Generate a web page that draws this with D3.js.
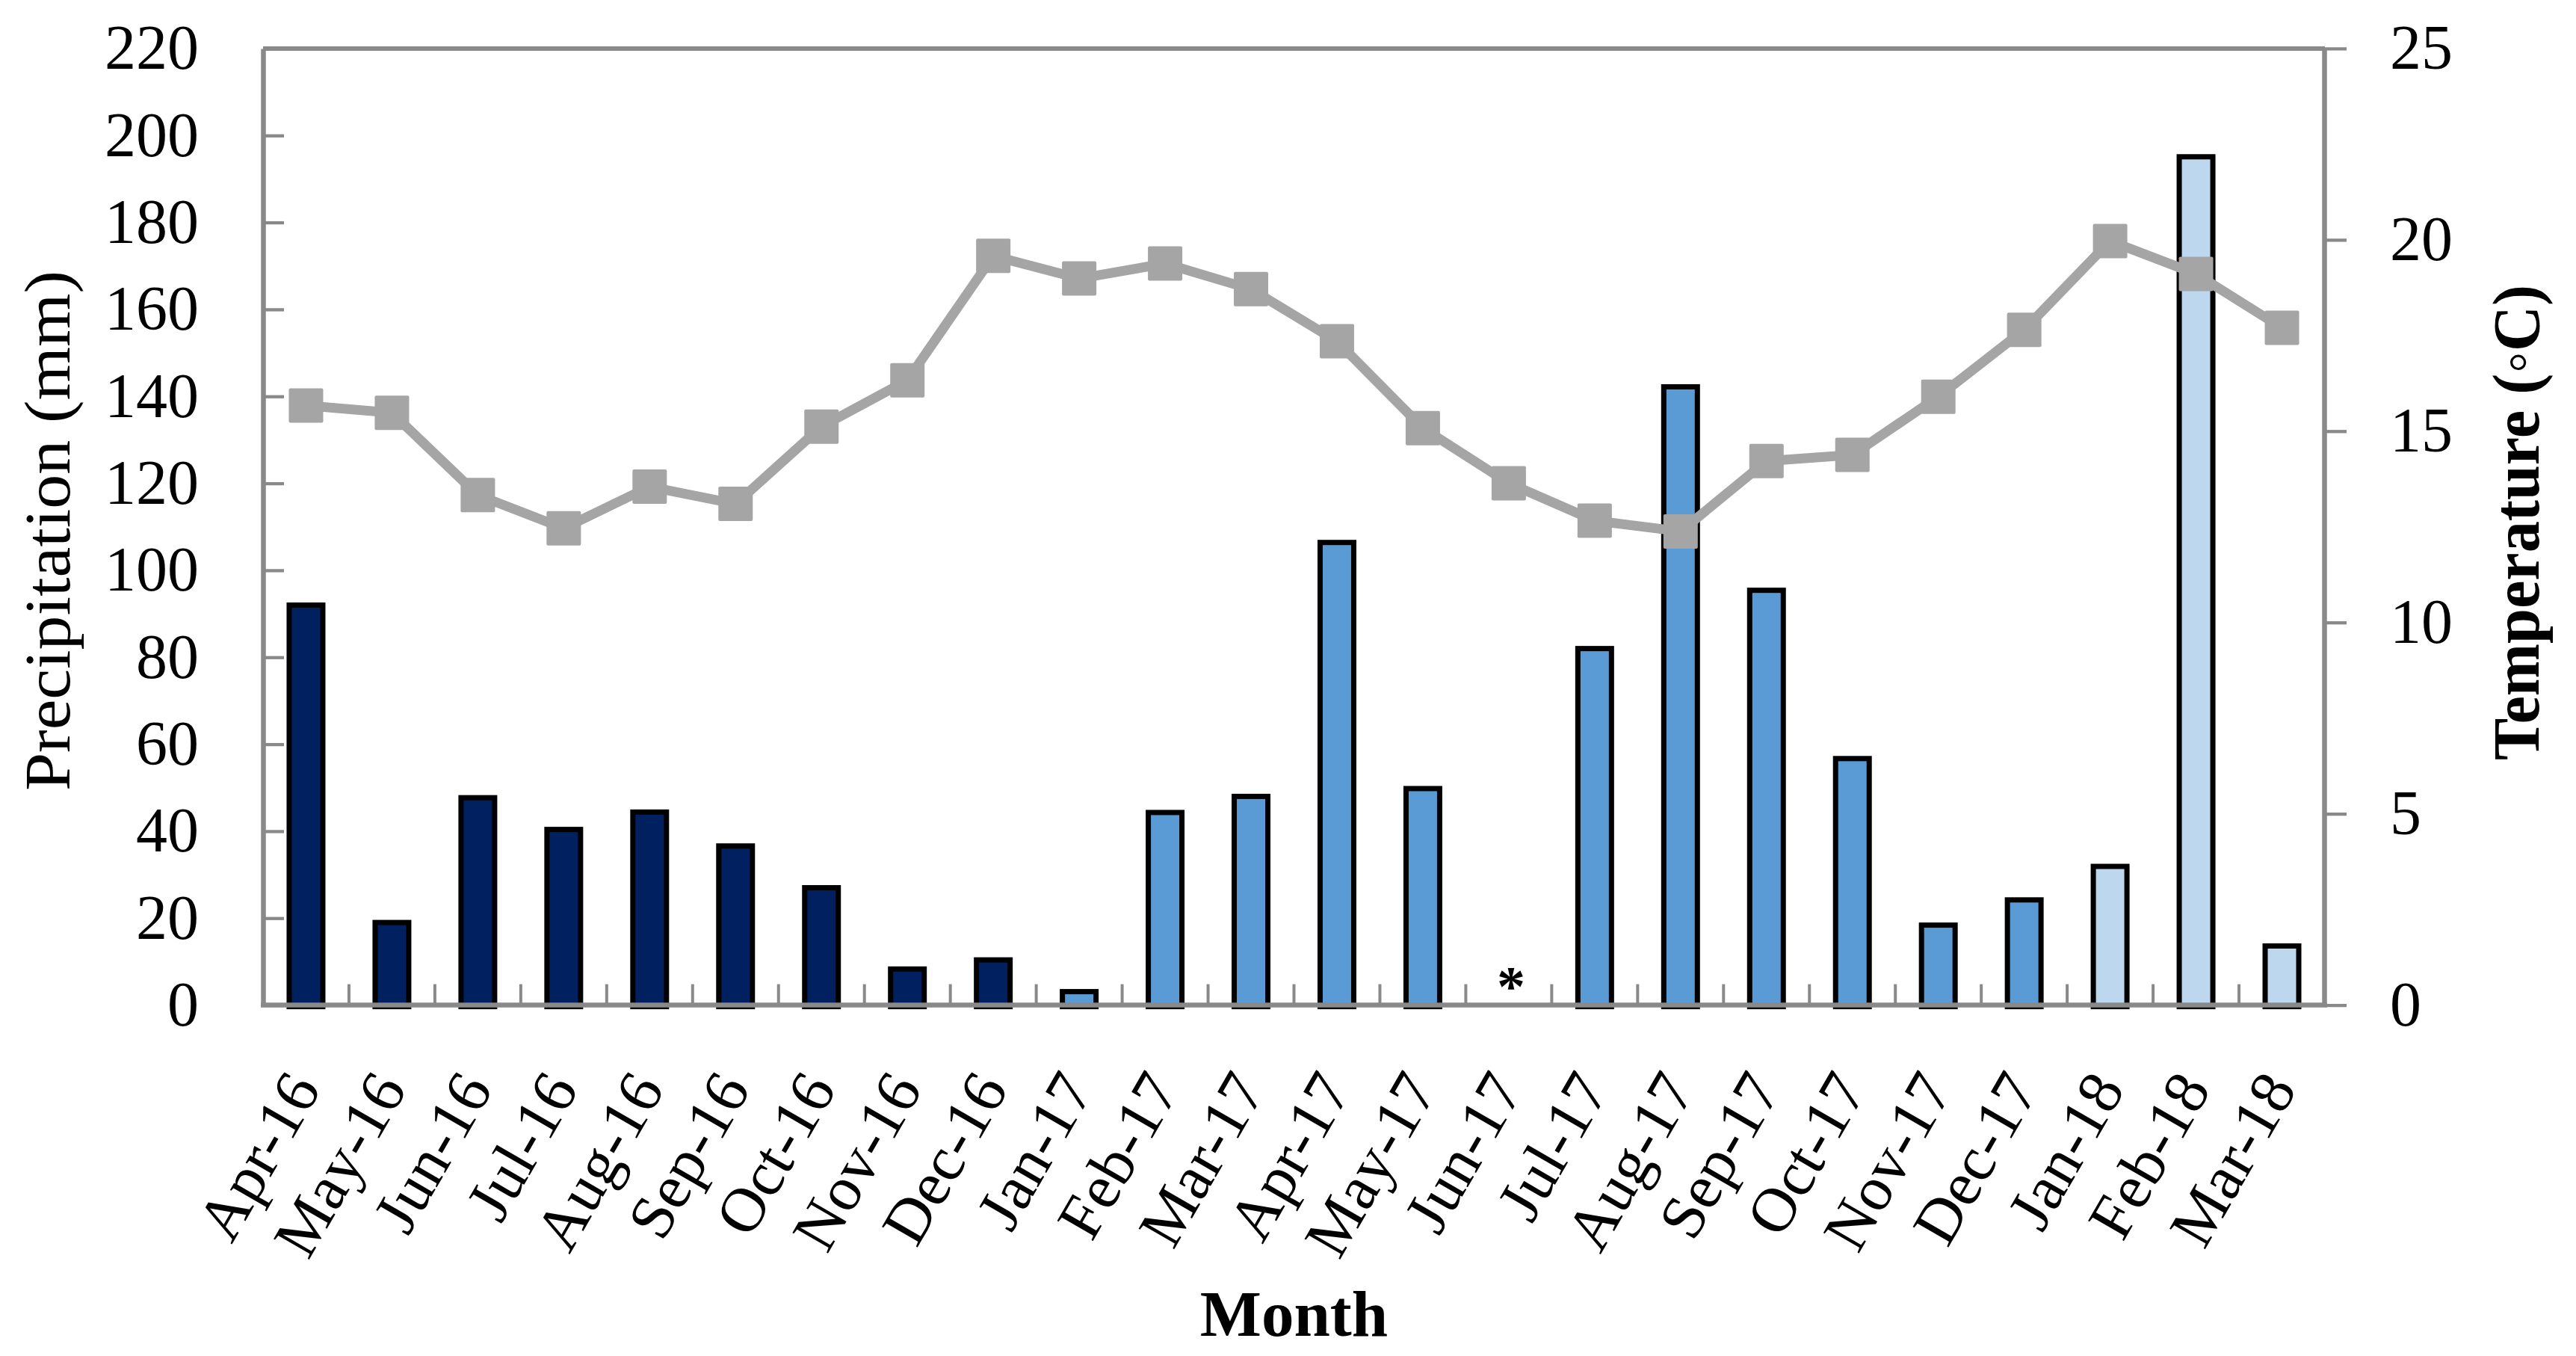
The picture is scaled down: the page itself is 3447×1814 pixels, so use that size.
<!DOCTYPE html>
<html>
<head>
<meta charset="utf-8">
<script src="https://cdnjs.cloudflare.com/ajax/libs/d3/7.8.5/d3.min.js"></script>
<style>
  html, body { margin: 0; padding: 0; background: #ffffff; }
  svg { display: block; }
  text { font-family: "Liberation Serif", "Times New Roman", serif; fill: #000; }
</style>
</head>
<body>
<svg id="chart" width="3447" height="1814"></svg>
<script>
// ---------------- data ----------------
const months = ["Apr-16","May-16","Jun-16","Jul-16","Aug-16","Sep-16","Oct-16","Nov-16","Dec-16",
                "Jan-17","Feb-17","Mar-17","Apr-17","May-17","Jun-17","Jul-17","Aug-17","Sep-17",
                "Oct-17","Nov-17","Dec-17","Jan-18","Feb-18","Mar-18"];
const precipitation = [92.0, 19.0, 47.7, 40.4, 44.4, 36.6, 27.0, 8.3, 10.4,
                       3.1, 44.3, 48.0, 106.4, 49.8, null, 82.0, 142.2, 95.4,
                       56.7, 18.4, 24.2, 31.9, 195.1, 13.6];
const temperature = [15.67, 15.48, 13.33, 12.46, 13.55, 13.10, 15.12, 16.33, 19.58,
                     18.99, 19.38, 18.71, 17.35, 15.08, 13.64, 12.66, 12.38, 14.22,
                     14.38, 15.90, 17.65, 19.97, 19.11, 17.70];
const period = ["2016","2016","2016","2016","2016","2016","2016","2016","2016",
                "2017","2017","2017","2017","2017","2017","2017","2017","2017",
                "2017","2017","2017","2018","2018","2018"];
const periodColor = {"2016": "#002060", "2017": "#5B9BD5", "2018": "#BDD7EE"};
const precipTicks = [0,20,40,60,80,100,120,140,160,180,200,220];
const tempTicks = [0,5,10,15,20,25];
const missingMark = "*";

// ---------------- layout ----------------
const plotL = 352, plotR = 3111, plotT = 64.9, plotB = 1344.6;
const axisGray = "#898989";
const lineGray = "#A5A5A5";

const svg = d3.select("#chart");

const barFrac = 45 / 115;
const x = d3.scaleBand().domain(months).range([plotL, plotR])
  .paddingInner(1 - barFrac).paddingOuter((1 - barFrac) / 2);
const cx = d => x(d) + x.bandwidth() / 2;
const yL = d3.scaleLinear().domain([0, 220]).range([plotB, plotT]);
const yR = d3.scaleLinear().domain([0, 25]).range([plotB, plotT]);

// plot-area top border
svg.append("line")
  .attr("x1", plotL).attr("x2", plotR).attr("y1", plotT).attr("y2", plotT)
  .attr("stroke", axisGray).attr("stroke-width", 6);

// bars
const rows = months.map((m, i) => ({m, p: precipitation[i], t: temperature[i], g: period[i]}));
svg.append("g").selectAll("rect")
  .data(rows.filter(d => d.p !== null))
  .join("rect")
  .attr("x", d => x(d.m))
  .attr("width", x.bandwidth())
  .attr("y", d => yL(d.p))
  .attr("height", d => yL(0) - yL(d.p) + 2)
  .attr("fill", d => periodColor[d.g])
  .attr("stroke", "#000")
  .attr("stroke-width", 7);

// missing-data asterisk
rows.filter(d => d.p === null).forEach(d => {
  svg.append("text")
    .attr("x", cx(d.m) + 3).attr("y", 1345)
    .attr("text-anchor", "middle")
    .attr("font-size", 76).attr("font-weight", "bold")
    .text(missingMark);
});

// category boundary ticks (inside, upward)
const step = x.step();
svg.append("g").selectAll("line")
  .data(d3.range(1, months.length))
  .join("line")
  .attr("x1", i => plotL + i * step).attr("x2", i => plotL + i * step)
  .attr("y1", plotB).attr("y2", plotB - 28)
  .attr("stroke", axisGray).attr("stroke-width", 4);

// left axis
const gL = svg.append("g").attr("transform", `translate(${plotL},0)`)
  .call(d3.axisLeft(yL).tickValues(precipTicks).tickSizeInner(-28).tickSizeOuter(0).tickPadding(86));
gL.select(".domain").attr("stroke", axisGray).attr("stroke-width", 6.5);
gL.selectAll(".tick line").attr("stroke", axisGray).attr("stroke-width", 4.3);
gL.selectAll(".tick text").attr("font-size", 84).attr("font-family", "Liberation Serif, serif").attr("fill", "#000");

// right axis
const gR = svg.append("g").attr("transform", `translate(${plotR - 1},0)`)
  .call(d3.axisRight(yR).tickValues(tempTicks).tickSizeInner(30).tickSizeOuter(0).tickPadding(58));
gR.select(".domain").attr("stroke", axisGray).attr("stroke-width", 6.5);
gR.selectAll(".tick line").attr("stroke", axisGray).attr("stroke-width", 4.3);
gR.selectAll(".tick text").attr("font-size", 84).attr("font-family", "Liberation Serif, serif").attr("fill", "#000");

// bottom axis
const gB = svg.append("g").attr("transform", `translate(0,${plotB})`)
  .call(d3.axisBottom(x).tickSize(0).tickSizeOuter(0));
gB.select(".domain").attr("stroke", axisGray).attr("stroke-width", 6.5)
  .attr("d", `M${plotL - 3},0H${plotR + 3}`);
gB.selectAll(".tick text")
  .attr("y", 0).attr("dy", 0)
  .attr("text-anchor", "end")
  .attr("transform", "translate(21,112) rotate(-60)")
  .attr("font-size", 84).attr("font-family", "Liberation Serif, serif").attr("fill", "#000");

// temperature line + markers
const line = d3.line().x(d => cx(d.m)).y(d => yR(d.t));
svg.append("path").datum(rows)
  .attr("d", line)
  .attr("fill", "none")
  .attr("stroke", lineGray)
  .attr("stroke-width", 13)
  .attr("stroke-linejoin", "round");
const ms = 46;
svg.append("g").selectAll("rect")
  .data(rows)
  .join("rect")
  .attr("x", d => cx(d.m) - ms / 2)
  .attr("y", d => yR(d.t) - ms / 2)
  .attr("width", ms).attr("height", ms)
  .attr("rx", 2)
  .attr("fill", lineGray);

// axis titles
svg.append("text")
  .attr("transform", `translate(93,710) rotate(-90)`)
  .attr("text-anchor", "middle")
  .attr("font-size", 86)
  .attr("textLength", 696).attr("lengthAdjust", "spacingAndGlyphs")
  .text("Precipitation (mm)");

svg.append("text")
  .attr("transform", `translate(3397,699) rotate(-90)`)
  .attr("text-anchor", "middle")
  .attr("font-size", 88).attr("font-weight", "bold")
  .attr("textLength", 636).attr("lengthAdjust", "spacingAndGlyphs")
  .text("Temperature (\u25E6C)");

svg.append("text")
  .attr("x", (plotL + plotR) / 2).attr("y", 1787)
  .attr("text-anchor", "middle")
  .attr("font-size", 87).attr("font-weight", "bold")
  .text("Month");
</script>
</body>
</html>
